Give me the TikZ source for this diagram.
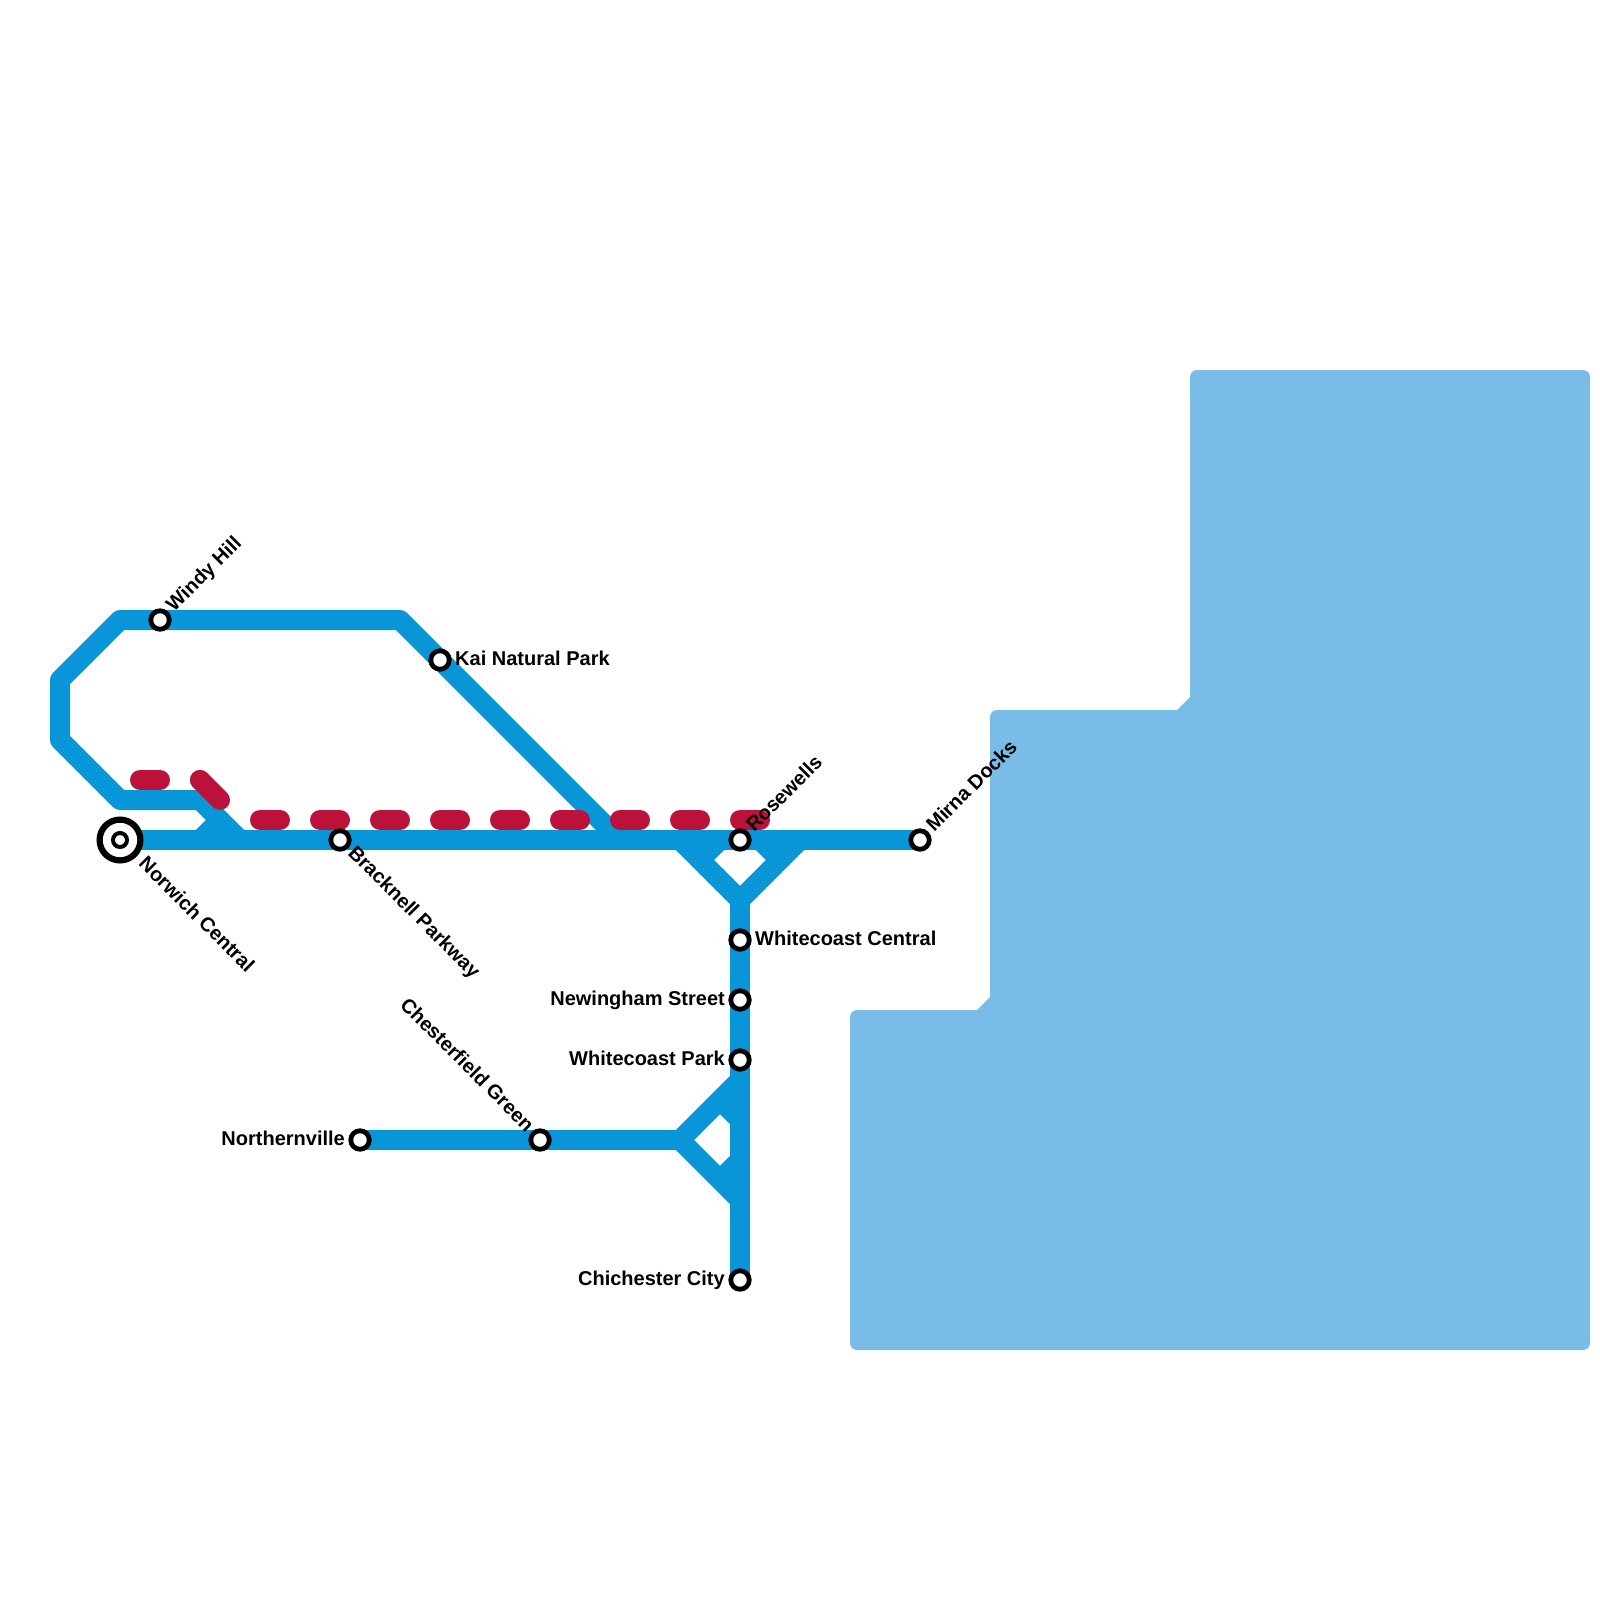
\documentclass[tikz,border=0pt]{standalone}
\usepackage{fontspec}
\setmainfont{Liberation Sans}
\usetikzlibrary{backgrounds}
\definecolor{watercol}{RGB}{121,188,232}
\definecolor{bluecol}{RGB}{9,150,217}
\definecolor{redcol}{RGB}{188,18,58}

\begin{document}
\begin{tikzpicture}[
  x=1pt, y=-1pt,
  font=\bfseries\fontsize{20}{22}\selectfont,
  stop/.style={                             % ordinary station: white hole, black ring
    draw=black, line width=4.8pt, fill=white,
    circle, minimum size=18.5pt, inner sep=0pt, outer sep=0pt
  },
  hub/.style={                              % interchange: wide outer ring
    draw=black, line width=6.2pt, fill=white,
    circle, minimum size=40.8pt, inner sep=0pt, outer sep=0pt
  },
  hubin/.style={                            % interchange: small inner ring
    draw=black, line width=4pt, fill=white,
    circle, minimum size=14pt, inner sep=0pt, outer sep=0pt
  },
  stname/.style={inner sep=0pt},
  bline/.style={draw=bluecol, line width=20pt, line join=round},
  rline/.style={draw=redcol, line width=20pt, line cap=round,
    dash pattern=on 20pt off 40pt},
]

\useasboundingbox (0,0) rectangle (1600,1600);

% ---- Stations ----
\node (norwich)    at (120,840)  [hub]   {};
\node (norwichin)  at (120,840)  [hubin] {};
\node (windy)      at (160,620)  [stop]  {};
\node (bracknell)  at (340,840)  [stop]  {};
\node (kai)        at (440,660)  [stop]  {};
\node (rosewells)  at (740,840)  [stop]  {};
\node (mirna)      at (920,840)  [stop]  {};
\node (wcentral)   at (740,940)  [stop]  {};
\node (newingham)  at (740,1000) [stop]  {};
\node (wpark)      at (740,1060) [stop]  {};
\node (chichester) at (740,1280) [stop]  {};
\node (northern)   at (360,1140) [stop]  {};
\node (chester)    at (540,1140) [stop]  {};

% ---- Station names ----
\node (tnorwich)   at (137.7,864.7) [stname, anchor=base west, rotate=-45] {Norwich Central};
\node (tbracknell) at (347.1,854.1) [stname, anchor=base west, rotate=-45] {Bracknell Parkway};
\node (twindy)     at (174.1,612.9) [stname, anchor=base west, rotate=45]  {Windy Hill};
\node (trose)      at (754.1,832.9) [stname, anchor=base west, rotate=45]  {Rosewells};
\node (tmirna)     at (934.1,832.9) [stname, anchor=base west, rotate=45]  {Mirna Docks};
\node (tchester)   at (525.9,1132.9) [stname, anchor=base east, rotate=-45] {Chesterfield Green};
\node (tkai)       at (455,665)  [stname, anchor=base west] {Kai Natural Park};
\node (twc)        at (755,945)  [stname, anchor=base west] {Whitecoast Central};
\node (tnew)       at (725,1005) [stname, anchor=base east] {Newingham Street};
\node (twp)        at (725,1065) [stname, anchor=base east] {Whitecoast Park};
\node (tchi)       at (725,1285) [stname, anchor=base east] {Chichester City};
\node (tnor)       at (345,1145) [stname, anchor=base east] {Northernville};

% ---- Bends and stubs ----
\coordinate (a1) at (240,840);
\coordinate (a2) at (200,800);
\coordinate (a3) at (120,800);
\coordinate (a4) at (60,740);
\coordinate (a5) at (60,680);
\coordinate (a6) at (120,620);
\coordinate (a7) at (400,620);
\coordinate (a8) at (620,840);
\coordinate (s1) at (200,840);
\coordinate (s2) at (220,820);
\coordinate (t1) at (680,840);
\coordinate (t2) at (800,840);
\coordinate (t3) at (740,900);
\coordinate (t4) at (720,840);
\coordinate (t5) at (700,860);
\coordinate (t6) at (760,840);
\coordinate (t7) at (780,860);
\coordinate (b1) at (740,1080);
\coordinate (b2) at (680,1140);
\coordinate (b3) at (740,1200);
\coordinate (b4) at (720,1100);
\coordinate (b5) at (740,1120);
\coordinate (b6) at (720,1180);
\coordinate (b7) at (740,1160);
\coordinate (r1) at (140,780);
\coordinate (r2) at (200,780);
\coordinate (r3) at (240,820);
\coordinate (r4) at (260,820);
\coordinate (r5) at (760,820);

\begin{pgfonlayer}{background}
% ---- Water ----
\fill[watercol, rounded corners=7pt]
  (1190,600) -- (1190,370) -- (1590,370) -- (1590,1350) -- (850,1350) -- (850,1010)
  [sharp corners] -- (977,1010) -- (990,997) [rounded corners=7pt] -- (990,710)
  [sharp corners] -- (1177,710) -- (1190,697) -- cycle;

% ---- Blue line ----
\foreach \p/\c in {norwich/mirna, s1/s2, t1/t3, t2/t3, t4/t5, t6/t7,
                   t3/chichester, northern/b2, b2/b1, b2/b3, b4/b5, b6/b7}
  \draw[bline] (\p.center) -- (\c.center);
\draw[bline] (a1) -- (a2) -- (a3) -- (a4) -- (a5) -- (a6) -- (a7) -- (a8);

% ---- Red line ----
\draw[rline] (r1) -- (r2);
\draw[rline, dash pattern=on 28.3pt off 40pt] (r2) -- (r3);
\draw[rline] (r4) -- (r5);
\end{pgfonlayer}

\end{tikzpicture}
\end{document}
